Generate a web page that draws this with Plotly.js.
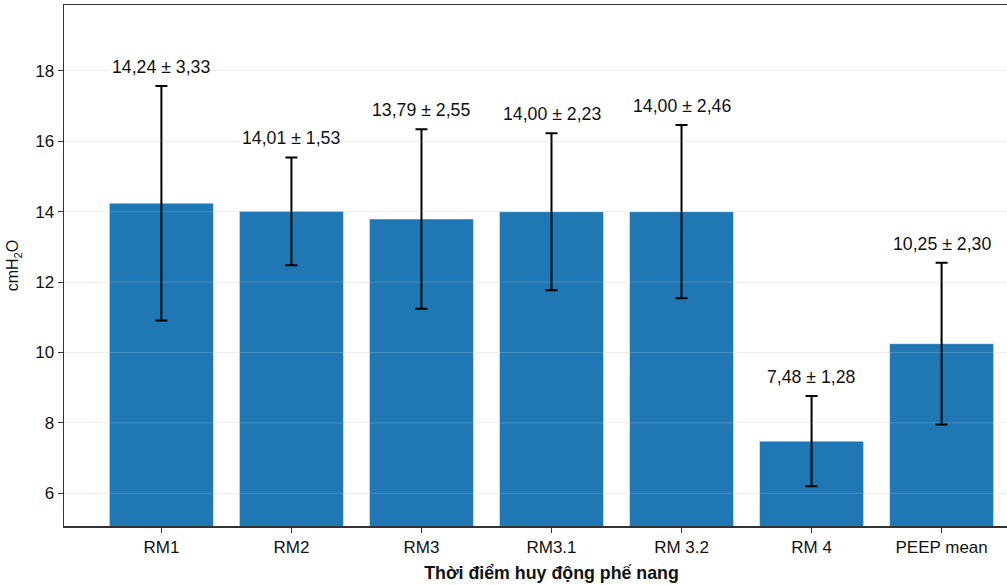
<!DOCTYPE html>
<html>
<head>
<meta charset="utf-8">
<script src="https://cdn.plot.ly/plotly-3.0.1.min.js"></script>
<style>
html,body{margin:0;padding:0;overflow:hidden;background:#fff;}
#chart{width:1040px;height:585px;}
</style>
</head>
<body>
<div id="chart"></div>
<script>
const categories = ["RM1", "RM2", "RM3", "RM3.1", "RM 3.2", "RM 4", "PEEP mean"];
const means = [14.24, 14.01, 13.79, 14.00, 14.00, 7.48, 10.25];
const sds = [3.33, 1.53, 2.55, 2.23, 2.46, 1.28, 2.30];
const yTicks = [6, 8, 10, 12, 14, 16, 18];
const xTitle = "Thời điểm huy động phế nang";
const yTitle = "cmH<sub>2</sub>O";

function fmt(v) { return v.toFixed(2).replace(".", ","); }

const trace = {
  type: "bar",
  x: categories,
  y: means,
  width: 0.8,
  marker: { color: "#1f77b4", line: { color: "rgba(255,255,255,0.45)", width: 1 } },
  error_y: { type: "data", array: sds, visible: true, color: "#000", thickness: 2, width: 6 },
  hoverinfo: "x+y"
};

const annotations = categories.map((c, i) => ({
  x: c, y: means[i] + sds[i], xref: "x", yref: "y",
  text: fmt(means[i]) + " ± " + fmt(sds[i]),
  showarrow: false, yanchor: "middle", yshift: 19,
  bgcolor: "#fff", borderpad: 2,
  font: { family: "Liberation Sans, Arial, sans-serif", size: 17.7, color: "#111" }
}));

const gridShapes = yTicks.map(t => ({
  type: "line", xref: "paper", yref: "y", x0: 0, x1: 1, y0: t, y1: t,
  line: { color: "rgba(255,255,255,0.18)", width: 1 }, layer: "above"
}));

const layout = {
  width: 1040, height: 585,
  margin: { l: 64, r: 1, t: 5, b: 59 },
  paper_bgcolor: "#fff", plot_bgcolor: "#fff",
  font: { family: "Liberation Sans, Arial, sans-serif", size: 17, color: "#111" },
  showlegend: false,
  bargap: 0.2,
  xaxis: {
    range: [-0.749, 6.749],
    showline: true, linecolor: "#333", linewidth: 1.5, mirror: true,
    ticks: "outside", ticklen: 5, tickcolor: "#333",
    showgrid: false,
    tickfont: { size: 17, color: "#111" },
    title: { text: "<b>" + xTitle + "</b>", font: { size: 17.8, color: "#111" }, standoff: 10 }
  },
  yaxis: {
    range: [5.07, 19.87],
    tickvals: yTicks,
    showline: true, linecolor: "#333", linewidth: 1.5, mirror: false,
    ticks: "outside", ticklen: 5, tickcolor: "#333",
    showgrid: true, gridcolor: "#ebebeb", gridwidth: 1,
    zeroline: false,
    tickfont: { size: 17, color: "#111" },
    title: { text: yTitle, font: { size: 16, color: "#111" }, standoff: 12 }
  },
  annotations: annotations,
  shapes: gridShapes
};

Plotly.newPlot("chart", [trace], layout, { displayModeBar: false, staticPlot: true });
</script>
</body>
</html>
